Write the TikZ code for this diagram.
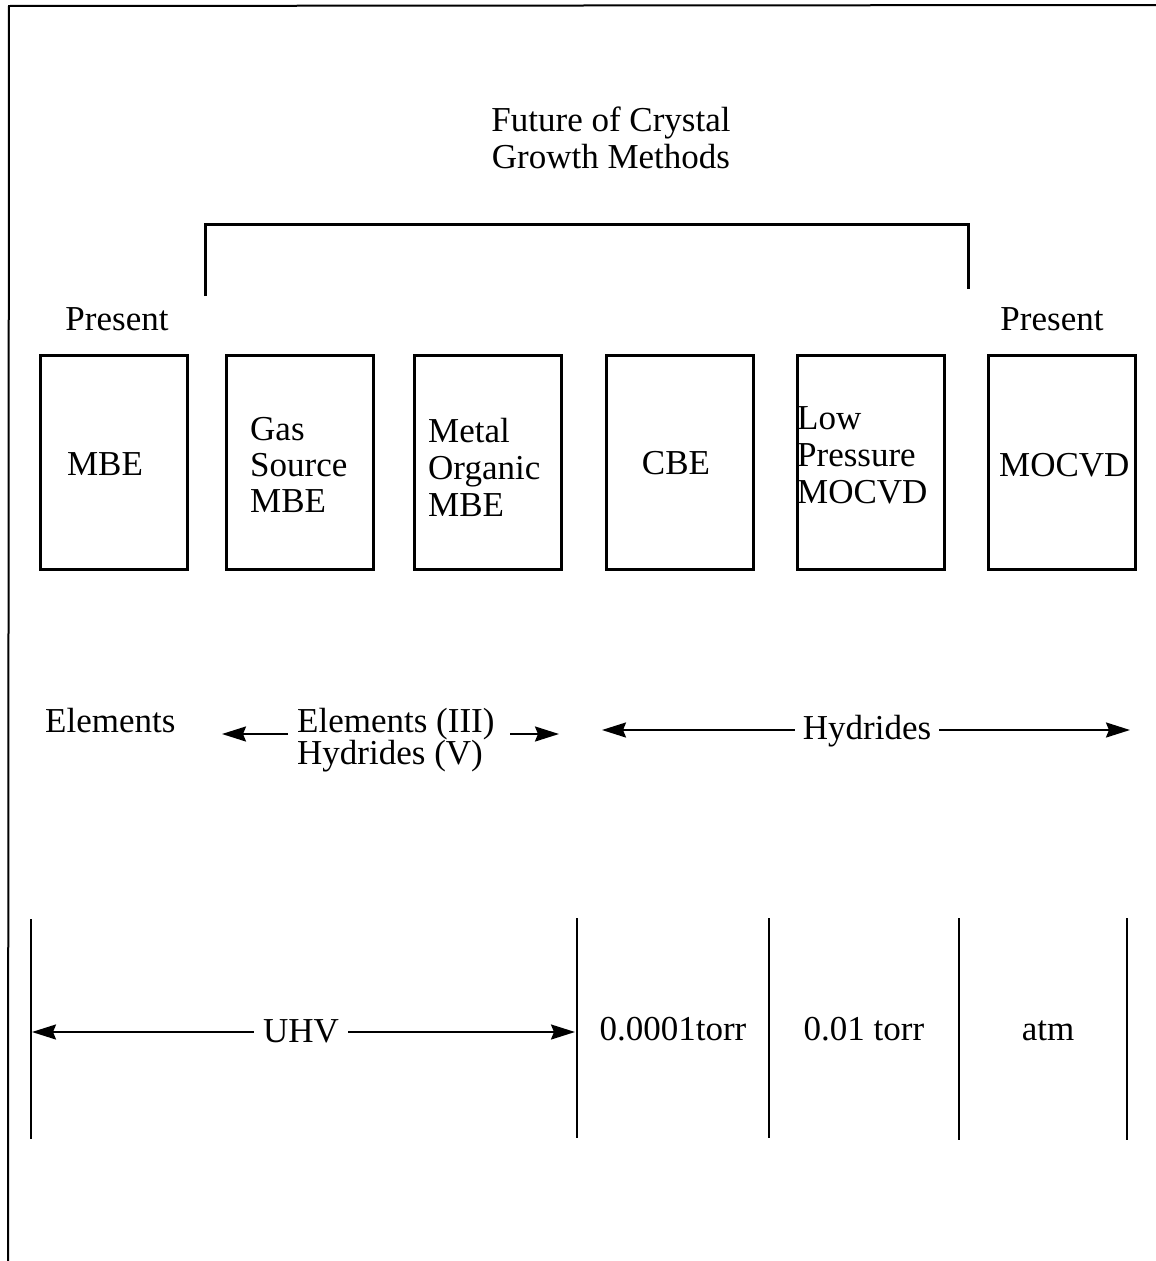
\documentclass[tikz,border=0pt]{standalone}
\usepackage{fontspec}
\setmainfont{Liberation Serif}
\usetikzlibrary{arrows.meta}
\begin{document}
\begin{tikzpicture}[x=1pt,y=-1pt,
  txt/.style={font=\fontsize{35}{36}\selectfont, inner sep=0pt, align=left},
  method/.style={draw, line width=2.8pt, minimum width=147pt, minimum height=214pt, inner sep=0pt, anchor=north west},
  arr/.style={line width=2.2pt, -{Stealth[length=24pt,width=15pt,inset=3pt]}},
  bar/.style={line width=2.8pt},
  frame/.style={line width=2pt},
  bracket/.style={line width=3pt}
]
\useasboundingbox (0,0) rectangle (1156,1261);
% frame
\coordinate (f1) at (8,1261);
\coordinate (f2) at (9,6);
\coordinate (f3) at (1156,5);
\draw[frame] (f1) -- (f2) -- (f3);

% title
\node[txt, anchor=base, align=center] (t1) at (611,131) {Future of Crystal};
\node[txt, anchor=base, align=center] (t2) at (611,168) {Growth Methods};

% bracket
\coordinate (brLb) at (205,296);
\coordinate (brLt) at (205,224);
\coordinate (brRt) at (968,224);
\coordinate (brRb) at (968,289);
\draw[bracket] (brLb) -- (brLt) -- (brRt) -- (brRb);

% present
\node[txt, anchor=base] (p1) at (117,330) {Present};
\node[txt, anchor=base] (p2) at (1052,330) {Present};

% boxes
\node[method] (b1) at (39,354) {};
\node[method] (b2) at (225,354) {};
\node[method] (b3) at (413,354) {};
\node[method] (b4) at (605,354) {};
\node[method] (b5) at (796,354) {};
\node[method] (b6) at (987,354) {};

% box texts
\node[txt, anchor=base] (m1) at (105,475) {MBE};
\node[txt, anchor=base west] (m2a) at (250,440) {Gas};
\node[txt, anchor=base west] (m2b) at (250,476) {Source};
\node[txt, anchor=base west] (m2c) at (250,512) {MBE};
\node[txt, anchor=base west] (m3a) at (428,442) {Metal};
\node[txt, anchor=base west] (m3b) at (428,479) {Organic};
\node[txt, anchor=base west] (m3c) at (428,516) {MBE};
\node[txt, anchor=base] (m4) at (676,474) {CBE};
\node[txt, anchor=base west] (m5a) at (797,429) {Low};
\node[txt, anchor=base west] (m5b) at (797,466) {Pressure};
\node[txt, anchor=base west] (m5c) at (797,503) {MOCVD};
\node[txt, anchor=base west] (m6) at (999,476) {MOCVD};

% sources row
\node[txt, anchor=base west] (e1) at (45,732) {Elements};
\node[txt, anchor=base west] (e2a) at (297,732) {Elements (III)};
\node[txt, anchor=base west] (e2b) at (297,764) {Hydrides (V)};
\coordinate (e2L) at (222,734);
\coordinate (e2R) at (559,734);
\draw[arr] ([xshift=-9pt]e2a.west |- e2L) -- (e2L);
\coordinate (e2Rs) at (510,734);
\draw[arr] (e2Rs) -- (e2R);

\node[txt, anchor=base] (h) at (867,739) {Hydrides};
\coordinate (hL) at (602,730);
\coordinate (hR) at (1130,730);
\draw[arr] ([xshift=-8pt]h.west |- hL) -- (hL);
\draw[arr] ([xshift=8pt]h.east |- hR) -- (hR);

% pressure scale
\coordinate (v1t) at (31,919); \coordinate (v1b) at (31,1139);
\coordinate (v2t) at (577,918); \coordinate (v2b) at (577,1138);
\coordinate (v3t) at (769,918); \coordinate (v3b) at (769,1138);
\coordinate (v4t) at (959,918); \coordinate (v4b) at (959,1140);
\coordinate (v5t) at (1127,918); \coordinate (v5b) at (1127,1140);
\foreach \v in {v1,v2,v3,v4,v5} \draw[bar] (\v t) -- (\v b);

\node[txt, anchor=base] (uhv) at (301,1042) {UHV};
\coordinate (uL) at (32,1032);
\coordinate (uR) at (575,1032);
\draw[arr] ([xshift=-9pt]uhv.west |- uL) -- (uL);
\draw[arr] ([xshift=9pt]uhv.east |- uR) -- (uR);

\node[txt, anchor=base] (pr1) at (673,1040) {0.0001torr};
\node[txt, anchor=base] (pr2) at (864,1040) {0.01 torr};
\node[txt, anchor=base] (pr3) at (1048,1040) {atm};
\end{tikzpicture}
\end{document}
